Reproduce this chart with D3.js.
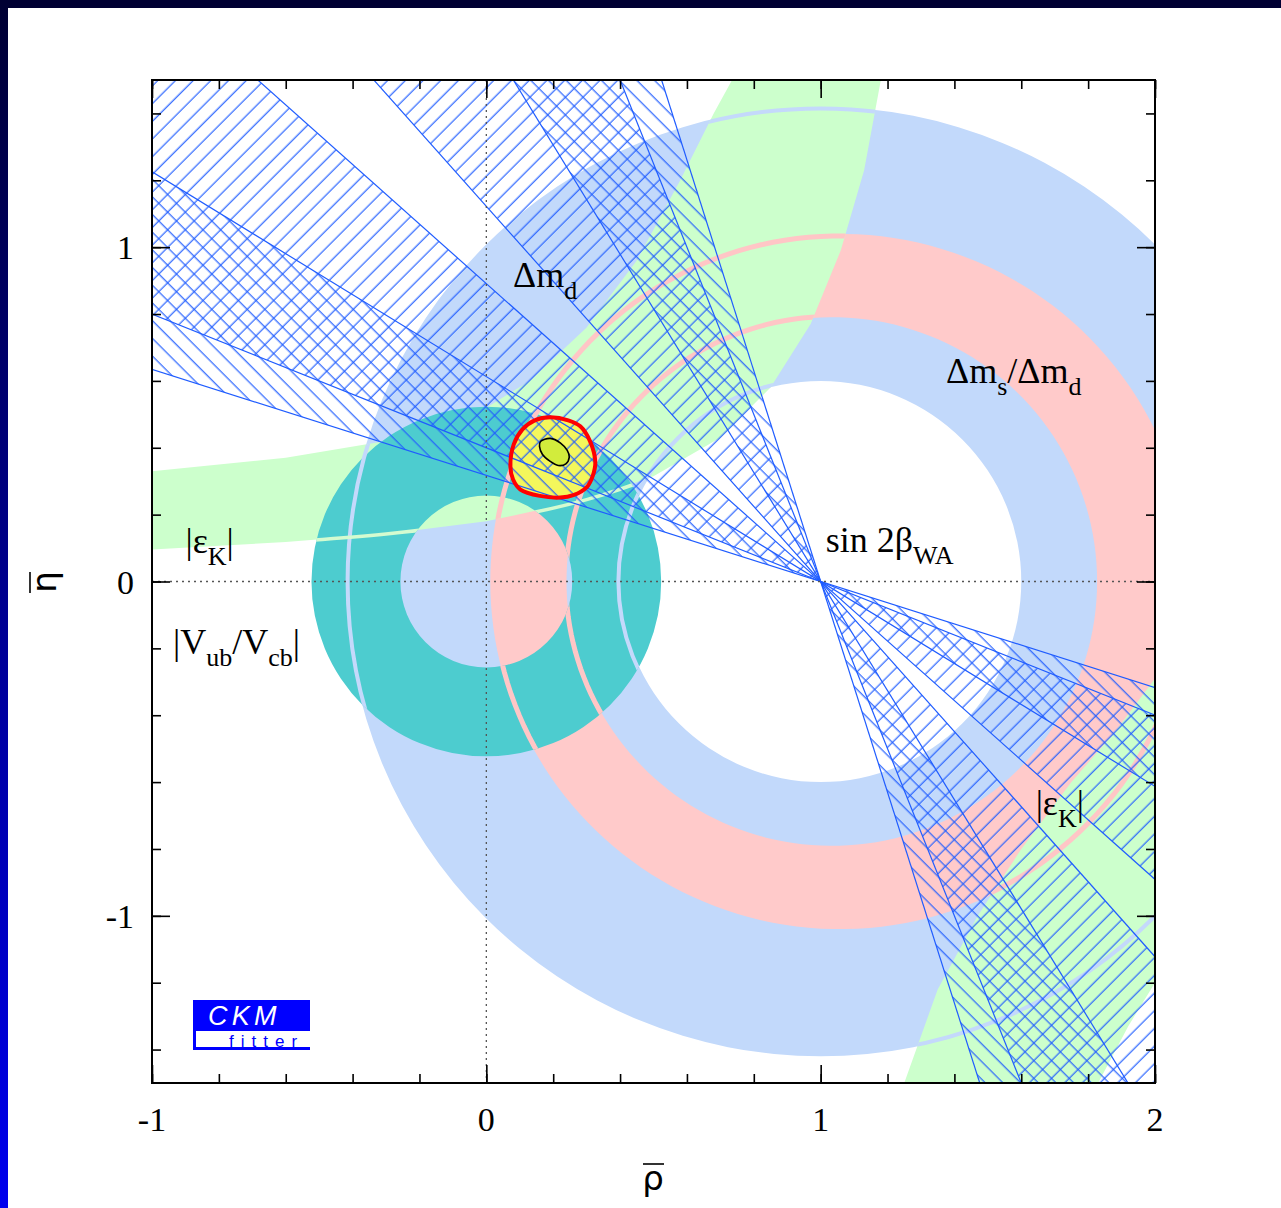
<!DOCTYPE html>
<html><head><meta charset="utf-8">
<script src="https://cdn.jsdelivr.net/npm/d3@7"></script>
<style>
html,body{margin:0;padding:0;background:#fff;}
svg{display:block;}
</style></head>
<body>
<svg id="c" width="1281" height="1208"></svg>
<script>
// ---------- data ----------
const xTicksMajor = [-1, 0, 1, 2];
const yTicksMajor = [-1, 0, 1];
const xTickLabels = ["-1", "0", "1", "2"];
const yTickLabels = ["-1", "0", "1"];
// rings: [centerRho, centerEta, innerR, outerR]
const dmdRing = [1, 0, 0.60, 1.42];
const vubRing = [0, 0, 0.257, 0.523];
// Delta m_s / Delta m_d: |Vtd/Vts| contour, radius parameters about (1,0) and lambda^2 correction
const dmsRadii = [0.77, 1.012];
const dmsLambda2 = 0.05;
// contour edge lines seen through the upper layers (radius parameters)
const dmsEdgeRadii = [0.772, 1.006];
const dmdEdgeRadii = [0.605, 1.415];
// |eps_K| band, upper-left branch (rho, eta)
const epsUpperOuter = [[-1,0.33],[-0.6,0.37],[-0.3,0.42],[0,0.52],[0.13,0.6],[0.3,0.76],[0.45,0.96],[0.58,1.2],[0.68,1.4],[0.735,1.5]];
const epsUpperInner = [[-1,0.096],[-0.6,0.118],[-0.3,0.142],[0,0.18],[0.3,0.245],[0.5,0.315],[0.7,0.43],[0.85,0.58],[0.97,0.77],[1.06,0.99],[1.13,1.23],[1.18,1.5]];
// |eps_K| band, lower-right branch
const epsLowerInner = [[1.25,-1.5],[1.35,-1.22],[1.47,-1.0],[1.6,-0.8],[1.75,-0.6],[1.88,-0.45],[2.0,-0.29]];
const epsLowerOuter = [[1.83,-1.5],[1.92,-1.33],[2.0,-1.2]];
// sin2beta wedges: angles (deg) measured from the negative rho axis, apex (1,0); hatch direction
const wedgeAngles = [[17.6,31.5],[21.8,41.7],[48.3,68.2],[58.5,72.4]];
const wedgeHatch = ["back","fwd","fwd","back"];
// global fit contours
const fitOuter = [[0.191,0.491],[0.245,0.482],[0.281,0.464],[0.31,0.42],[0.326,0.356],[0.318,0.315],[0.302,0.284],[0.26,0.258],[0.221,0.251],[0.16,0.256],[0.102,0.275],[0.08,0.305],[0.072,0.344],[0.082,0.41],[0.108,0.455],[0.145,0.482]];
const fitInner = [[0.162,0.419],[0.191,0.428],[0.222,0.414],[0.242,0.392],[0.248,0.372],[0.238,0.352],[0.215,0.347],[0.19,0.36],[0.168,0.38],[0.159,0.404]];
// labels
const labels = [
  {parts:[["Δm",""],["d","sub"]], rho:0.08, eta:0.88},
  {parts:[["Δm",""],["s","sub"],["/Δm",""],["d","sub"]], rho:1.375, eta:0.595},
  {parts:[["sin 2β",""],["WA","sub"]], rho:1.015, eta:0.088},
  {parts:[["|ε",""],["K","sub"],["|",""]], rho:-0.9, eta:0.085},
  {parts:[["|ε",""],["K","sub"],["|",""]], rho:1.643, eta:-0.697},
  {parts:[["|V",""],["ub","sub"],["/V",""],["cb","sub"],["|",""]], rho:-0.937, eta:-0.218}
];

// ---------- layout ----------
const W = 1281, H = 1208;
const L = 152, R = 1155, T = 80, B = 1083;
const x = d3.scaleLinear().domain([-1, 2]).range([L, R]);
const y = d3.scaleLinear().domain([-1.5, 1.5]).range([B, T]);
const unit = x(1) - x(0);

const svg = d3.select("#c");
const defs = svg.append("defs");

// frame background
const g1 = defs.append("linearGradient").attr("id","leftGrad").attr("x1",0).attr("y1",0).attr("x2",0).attr("y2",1);
g1.append("stop").attr("offset","0%").attr("stop-color","#000033");
g1.append("stop").attr("offset","100%").attr("stop-color","#0000ee");
svg.append("rect").attr("x",0).attr("y",0).attr("width",W).attr("height",8).attr("fill","#000033");
svg.append("rect").attr("x",0).attr("y",0).attr("width",8).attr("height",H).attr("fill","url(#leftGrad)");

defs.append("clipPath").attr("id","plotClip").append("rect")
  .attr("x",L).attr("y",T).attr("width",R-L).attr("height",B-T);

const hatchColor = "#1f5cff";
function hatch(id, angle){
  const p = defs.append("pattern").attr("id",id).attr("patternUnits","userSpaceOnUse")
    .attr("width",12.5).attr("height",12.5).attr("patternTransform",`rotate(${angle})`);
  p.append("line").attr("x1",6).attr("y1",-2).attr("x2",6).attr("y2",15)
    .attr("stroke",hatchColor).attr("stroke-width",1.15);
}
hatch("hFwd", 45);
hatch("hBack", -45);

const plot = svg.append("g").attr("clip-path","url(#plotClip)");

function ringPath(r){
  return d3.arc().innerRadius(r[2]*unit).outerRadius(r[3]*unit).startAngle(0).endAngle(2*Math.PI)();
}
function ring(r, fill){
  plot.append("path").attr("d", ringPath(r)).attr("transform",`translate(${x(r[0])},${y(r[1])})`).attr("fill", fill);
}
const lin = d3.line().x(d=>x(d[0])).y(d=>y(d[1]));
const smooth = d3.line().x(d=>x(d[0])).y(d=>y(d[1])).curve(d3.curveCatmullRom);
const closedLin = d3.line().x(d=>x(d[0])).y(d=>y(d[1])).curve(d3.curveLinearClosed);

// Delta m_s/Delta m_d contour: r^2 (1 - l2 - 2 l2 r cos t) = R0^2 around (1,0)
function dmsContour(R0){
  return d3.range(0, 361, 2).map(a=>{
    const t = a*Math.PI/180; let r = R0;
    for (let k=0;k<8;k++) r = R0/Math.sqrt(1 - dmsLambda2 - 2*dmsLambda2*r*Math.cos(t));
    return [1 + r*Math.cos(t), r*Math.sin(t)];
  });
}

// green band outlines
const upperBandD = closedLin(epsUpperOuter.concat([[0.735,1.6],[1.18,1.6]]).concat(epsUpperInner.slice().reverse()).concat([[-1.1,0.094],[-1.1,0.33]]));
const lowerBandD = closedLin(epsLowerInner.concat([[2.1,-0.27],[2.1,-1.2]]).concat(epsLowerOuter.slice().reverse()).concat([[1.8,-1.6],[1.22,-1.6]]));

// clip = union of green bands and teal ring (where the edge lines show through)
const ov = defs.append("clipPath").attr("id","ovClip");
ov.append("path").attr("d", upperBandD);
ov.append("path").attr("d", lowerBandD);
ov.append("path").attr("d", ringPath(vubRing)).attr("transform",`translate(${x(vubRing[0])},${y(vubRing[1])})`);
const tealClip = defs.append("clipPath").attr("id","tealClip");
tealClip.append("path").attr("d", ringPath(vubRing)).attr("transform",`translate(${x(vubRing[0])},${y(vubRing[1])})`);

// Delta m_d
ring(dmdRing, "#c2d9fb");
// Delta m_s / Delta m_d
plot.append("path").attr("d", closedLin(dmsContour(dmsRadii[1])) + closedLin(dmsContour(dmsRadii[0]).reverse()))
  .attr("fill","#ffcaca").attr("fill-rule","evenodd");
// eps_K band
plot.append("path").attr("d", upperBandD).attr("fill","#ccffcc");
plot.append("path").attr("d", lowerBandD).attr("fill","#ccffcc");
// Vub/Vcb
ring(vubRing, "#4dcccf");

// edge lines visible through upper layers
const ovg = plot.append("g").attr("clip-path","url(#ovClip)");
dmsEdgeRadii.forEach(rr=>{
  ovg.append("path").attr("d", closedLin(dmsContour(rr)))
    .attr("fill","none").attr("stroke","#ffc6c6").attr("stroke-width",5);
});
dmdEdgeRadii.forEach(rr=>{
  ovg.append("circle").attr("cx",x(1)).attr("cy",y(0)).attr("r",rr*unit)
    .attr("fill","none").attr("stroke","#c4d9fb").attr("stroke-width",4);
});
const tg = plot.append("g").attr("clip-path","url(#tealClip)");
tg.append("path").attr("d", smooth(epsUpperInner.slice(0,7))).attr("fill","none").attr("stroke","#d4fbd0").attr("stroke-width",3.5);

// sin 2beta wedges
const apex = [1, 0];
const far = 6, deg = Math.PI/180;
function wedgePts(a0, a1){
  return [
    [apex[0]-far*Math.cos(a0*deg), apex[1]+far*Math.sin(a0*deg)],
    [apex[0]-far*Math.cos(a1*deg), apex[1]+far*Math.sin(a1*deg)],
    apex,
    [apex[0]+far*Math.cos(a0*deg), apex[1]-far*Math.sin(a0*deg)],
    [apex[0]+far*Math.cos(a1*deg), apex[1]-far*Math.sin(a1*deg)],
    apex
  ];
}
function drawWedges(sel, filterFn){
  wedgeAngles.forEach((w,i)=>{
    if (filterFn && !filterFn(i)) return;
    sel.append("path").attr("d", lin(wedgePts(w[0],w[1]))+"Z")
      .attr("fill", wedgeHatch[i]==="fwd" ? "url(#hFwd)" : "url(#hBack)");
  });
}
drawWedges(plot);
wedgeAngles.forEach(w=>{
  w.forEach(a=>{
    plot.append("path").attr("d", lin([[apex[0]-far*Math.cos(a*deg), apex[1]+far*Math.sin(a*deg)],[apex[0]+far*Math.cos(a*deg), apex[1]-far*Math.sin(a*deg)]]))
      .attr("stroke",hatchColor).attr("stroke-width",1.2).attr("fill","none");
  });
});

// global fit
const closedSmooth = d3.line().x(d=>x(d[0])).y(d=>y(d[1])).curve(d3.curveCatmullRomClosed);
plot.append("path").attr("d", closedSmooth(fitOuter)).attr("fill","#f4f75c");
const fitClip = defs.append("clipPath").attr("id","fitClip");
fitClip.append("path").attr("d", closedSmooth(fitOuter));
const fg = plot.append("g").attr("clip-path","url(#fitClip)");
drawWedges(fg, i=>i<2);
wedgeAngles.slice(0,2).forEach(w=>{
  w.forEach(a=>{
    fg.append("path").attr("d", lin([[apex[0]-far*Math.cos(a*deg), apex[1]+far*Math.sin(a*deg)],apex]))
      .attr("stroke",hatchColor).attr("stroke-width",1.2).attr("fill","none");
  });
});
plot.append("path").attr("d", closedSmooth(fitOuter)).attr("fill","none").attr("stroke","#ff0000").attr("stroke-width",4);
plot.append("path").attr("d", closedSmooth(fitInner)).attr("fill","#d2ec3c").attr("stroke","#000").attr("stroke-width",1.6);

// dotted axes
plot.append("line").attr("x1",x(0)).attr("x2",x(0)).attr("y1",T).attr("y2",B)
  .attr("stroke","#555").attr("stroke-width",1.3).attr("stroke-dasharray","2,4");
plot.append("line").attr("x1",L).attr("x2",R).attr("y1",y(0)).attr("y2",y(0))
  .attr("stroke","#555").attr("stroke-width",1.3).attr("stroke-dasharray","2,4");

// frame
svg.append("rect").attr("x",L).attr("y",T).attr("width",R-L).attr("height",B-T)
  .attr("fill","none").attr("stroke","#000").attr("stroke-width",2);

// ticks via d3 axes (inside)
const minorX = d3.range(-1, 2.001, 0.2), minorY = d3.range(-1.4, 1.401, 0.2);
function addAxis(axisGen, tx, ty){
  const g = svg.append("g").attr("transform",`translate(${tx},${ty})`).call(axisGen);
  g.select(".domain").remove();
  g.selectAll("line").attr("stroke","#000").attr("stroke-width",1.6);
  g.selectAll("text").remove();
}
addAxis(d3.axisBottom(x).tickValues(minorX).tickSize(-9), 0, B);
addAxis(d3.axisTop(x).tickValues(minorX).tickSize(-9), 0, T);
addAxis(d3.axisLeft(y).tickValues(minorY).tickSize(-9), L, 0);
addAxis(d3.axisRight(y).tickValues(minorY).tickSize(-9), R, 0);
addAxis(d3.axisBottom(x).tickValues(xTicksMajor).tickSize(-18), 0, B);
addAxis(d3.axisTop(x).tickValues(xTicksMajor).tickSize(-18), 0, T);
addAxis(d3.axisLeft(y).tickValues(yTicksMajor).tickSize(-18), L, 0);
addAxis(d3.axisRight(y).tickValues(yTicksMajor).tickSize(-18), R, 0);

// tick labels
const serif = "'Liberation Serif','Times New Roman',serif";
xTicksMajor.forEach((v,i)=>{
  svg.append("text").attr("x",x(v)).attr("y",B+48).attr("text-anchor","middle")
    .attr("font-family",serif).attr("font-size",34).text(xTickLabels[i]);
});
yTicksMajor.forEach((v,i)=>{
  svg.append("text").attr("x",L-18).attr("y",y(v)+12).attr("text-anchor","end")
    .attr("font-family",serif).attr("font-size",34).text(yTickLabels[i]);
});
// axis titles
const sans = "'DejaVu Sans','Noto Sans',sans-serif";
svg.append("text").attr("x",653).attr("y",1190).attr("text-anchor","middle")
  .attr("font-family",sans).attr("font-size",34).text("ρ");
svg.append("line").attr("x1",643).attr("x2",664).attr("y1",1164).attr("y2",1164).attr("stroke","#000").attr("stroke-width",1.6);
svg.append("text").attr("transform","translate(56,582) rotate(-90)").attr("text-anchor","middle")
  .attr("font-family",sans).attr("font-size",34).text("η");
svg.append("line").attr("x1",30).attr("x2",30).attr("y1",572).attr("y2",593).attr("stroke","#000").attr("stroke-width",1.6);

// labels
labels.forEach(lb=>{
  const t = svg.append("text").attr("x",x(lb.rho)).attr("y",y(lb.eta))
    .attr("font-family",serif).attr("font-size",36);
  let prevSub = false;
  lb.parts.forEach(p=>{
    const ts = t.append("tspan").text(p[0]);
    if (p[1]==="sub") { ts.attr("font-size",26).attr("dy",12); prevSub = true; }
    else { ts.attr("dy", prevSub ? -12 : 0); prevSub = false; }
  });
});

// CKMfitter logo
const logo = svg.append("g");
logo.append("rect").attr("x",193).attr("y",1000).attr("width",117).attr("height",31).attr("fill","#0000ff");
logo.append("rect").attr("x",193).attr("y",1031).attr("width",3).attr("height",19).attr("fill","#0000ff");
logo.append("rect").attr("x",193).attr("y",1047).attr("width",117).attr("height",3).attr("fill","#0000ff");
logo.append("text").attr("x",208).attr("y",1025).attr("font-family","'Liberation Sans',Arial,sans-serif")
  .attr("font-style","italic").attr("font-size",27).attr("fill","#fff").attr("letter-spacing",4.3).text("CKM");
logo.append("text").attr("x",229).attr("y",1047).attr("font-family","'Liberation Sans',Arial,sans-serif")
  .attr("font-size",17).attr("fill","#0000ff").attr("letter-spacing",7).text("fitter");
</script>
</body></html>
